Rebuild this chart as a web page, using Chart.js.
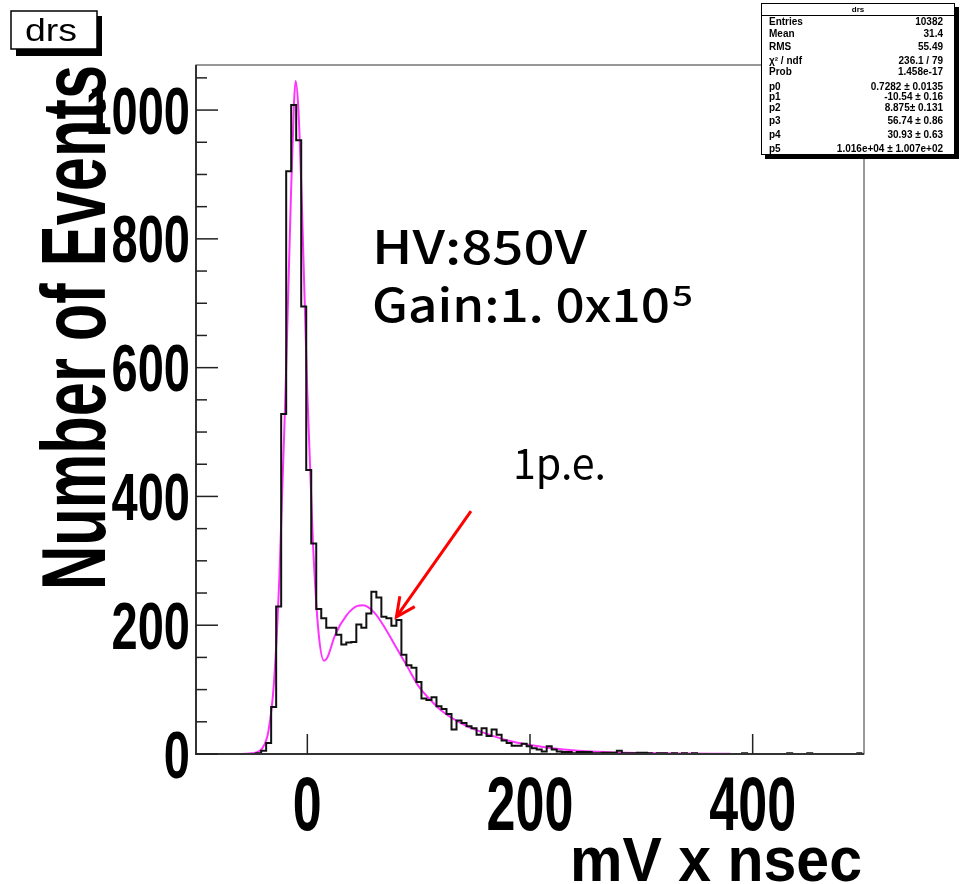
<!DOCTYPE html>
<html>
<head>
<meta charset="utf-8">
<script src="https://cdn.jsdelivr.net/npm/chart.js@4.4.1/dist/chart.umd.min.js"></script>
<style>
  html, body { margin: 0; padding: 0; background: #fff; }
  #wrap { width: 961px; height: 884px; position: relative; }
</style>
</head>
<body>
<div id="wrap"><canvas id="drsChart" width="961" height="884"></canvas></div>
<script>
// histogram "drs": bins of 4.5 starting at -100
const binLow = -100;
const binWidth = 4.5;
const counts = [
    0, 0, 0, 0, 0, 0, 0, 0, 0, 0,
    0, 0, 1, 5, 17, 73, 229, 528, 905, 1008,
    953, 695, 441, 327, 225, 211, 196, 196, 185, 170,
    173, 174, 201, 196, 218, 252, 243, 213, 211, 199,
    208, 154, 138, 134, 112, 86, 84, 88, 74, 70,
    62, 38, 52, 48, 43, 40, 30, 40, 28, 38,
    30, 21, 17, 13, 13, 16, 12, 9, 7, 4,
    12, 7, 4, 3, 3, 1, 3, 3, 3, 1,
    1, 2, 2, 2, 5, 1, 1, 1, 2, 2,
    1, 0, 1, 1, 0, 1, 0, 1, 0, 1,
    0, 0, 0, 0, 0, 0, 0, 0, 0, 1,
    0, 0, 0, 0, 0, 0, 0, 0, 1, 0,
    0, 0, 1, 0, 0, 0, 0, 0, 0, 0,
    0, 0, 1
];

// fit curve
const fitX = [-100, -60, -50, -45, -40, -35, -30, -25, -20, -15, -12, -10.5, -8, -5, 0, 5, 10, 15, 18, 25, 35, 45, 50, 60, 70, 80, 90, 100, 110, 120, 140, 160, 180, 200, 230, 260, 300, 340, 380];
const fitY = [0, 0, 1, 3, 10, 35, 110, 280, 540, 850, 1010, 1045, 1000, 860, 560, 330, 190, 145, 150, 185, 215, 230, 231, 220, 195, 165, 135, 105, 85, 68, 46, 32, 21, 14, 7, 3.5, 1.5, 0.7, 0.3];

const xLabels = [0, 200, 400];
const yLabels = [0, 200, 400, 600, 800, 1000];

const statLabels = ['Entries', 'Mean', 'RMS', 'χ² / ndf', 'Prob', 'p0', 'p1', 'p2', 'p3', 'p4', 'p5'];
const statValues = ['10382', '31.4', '55.49', '236.1 / 79', '1.458e-17', '0.7282 ± 0.0135', '-10.54 ± 0.16',
    '8.875± 0.131', '56.74 ± 0.86', '30.93 ± 0.63', '1.016e+04 ± 1.007e+02'];

// arrow to the 1 p.e. bump, in data units
const arrowFrom = [147, 377];
const arrowTo = [80, 213];

const histPoints = counts.map((c, i) => ({x: binLow + i * binWidth, y: c}));
histPoints.push({x: binLow + counts.length * binWidth, y: counts[counts.length - 1]});
const fitPoints = fitX.map((x, i) => ({x: x, y: fitY[i]}));

function stretchText(c, str, x, y, font, w, sy, align) {
    c.save();
    c.font = font;
    const m = c.measureText(str).width;
    const sx = w ? w / m : 1;
    c.translate(x, y);
    c.scale(sx, sy);
    c.textAlign = align || 'left';
    c.textBaseline = 'alphabetic';
    c.fillText(str, 0, 0);
    c.restore();
}

const rootDecor = {
    id: 'rootDecor',
    afterDatasetsDraw(chart) {
        const c = chart.ctx;
        const a = chart.chartArea;
        const xs = chart.scales.x, ys = chart.scales.y;
        c.save();
        c.fillStyle = '#000';

        // frame
        c.strokeStyle = '#333';
        c.lineWidth = 1;
        c.strokeRect(a.left, a.top, a.right - a.left, a.bottom - a.top);
        c.lineWidth = 2;
        c.beginPath();
        c.moveTo(a.left, a.top); c.lineTo(a.left, a.bottom); c.lineTo(a.right, a.bottom);
        c.stroke();

        // y ticks (inside), minor every 50
        c.lineWidth = 1.5;
        c.strokeStyle = '#222';
        for (let v = 0; v <= ys.max; v += 50) {
            const y = ys.getPixelForValue(v);
            const len = v % 200 === 0 ? 22 : 11;
            c.beginPath(); c.moveTo(a.left, y); c.lineTo(a.left + len, y); c.stroke();
        }
        xLabels.forEach(v => {
            const x = xs.getPixelForValue(v);
            c.beginPath(); c.moveTo(x, a.bottom); c.lineTo(x, a.bottom - 20); c.stroke();
        });

        // tick labels
        yLabels.forEach(v => {
            const y = ys.getPixelForValue(v);
            stretchText(c, String(v), 190, y + 23.5, 'bold 47px "Liberation Sans"', null, 1.4, 'right');
        });
        xLabels.forEach(v => {
            const x = xs.getPixelForValue(v);
            stretchText(c, String(v), x, 830, 'bold 52px "Liberation Sans"', null, 1.45, 'center');
        });

        // axis titles
        c.save();
        c.translate(105, 590);
        c.rotate(-Math.PI / 2);
        stretchText(c, 'Number of Events', 0, 0, 'bold 61px "Liberation Sans"', 525, 1.49, 'left');
        c.restore();
        stretchText(c, 'mV x nsec', 862, 881, 'bold 59px "Liberation Sans"', 292, 1.08, 'right');

        // annotations
        stretchText(c, 'HV:850V', 372, 264, '500 46px "Noto Sans CJK JP"', 215, 1, 'left');
        stretchText(c, 'Gain:1. 0x10', 372, 322, '500 46px "Noto Sans CJK JP"', 298, 1, 'left');
        stretchText(c, '5', 672, 306, '500 28px "Noto Sans CJK JP"', 21, 1, 'left');
        stretchText(c, '1p.e.', 513, 479, '400 42px "Noto Sans CJK JP"', 93, 1, 'left');

        // red arrow
        const x0 = xs.getPixelForValue(arrowFrom[0]), y0 = ys.getPixelForValue(arrowFrom[1]);
        const x1 = xs.getPixelForValue(arrowTo[0]), y1 = ys.getPixelForValue(arrowTo[1]);
        const ang = Math.atan2(y1 - y0, x1 - x0);
        c.strokeStyle = '#ff0000';
        c.lineWidth = 3;
        c.beginPath(); c.moveTo(x0, y0); c.lineTo(x1, y1); c.stroke();
        c.beginPath();
        c.moveTo(x1 - 21 * Math.cos(ang - 0.45), y1 - 21 * Math.sin(ang - 0.45));
        c.lineTo(x1, y1);
        c.lineTo(x1 - 21 * Math.cos(ang + 0.45), y1 - 21 * Math.sin(ang + 0.45));
        c.stroke();

        // title box
        c.fillStyle = '#000';
        c.fillRect(16, 16, 86, 40);
        c.fillStyle = '#fff';
        c.fillRect(11, 11, 86, 38);
        c.strokeStyle = '#000';
        c.lineWidth = 1.5;
        c.strokeRect(11, 11, 86, 38);
        c.fillStyle = '#000';
        stretchText(c, 'drs', 25, 41, '500 32px "Liberation Sans"', 52, 1, 'left');

        // stats box
        c.fillStyle = '#000';
        c.fillRect(765, 7, 194, 152);
        c.fillStyle = '#fff';
        c.fillRect(761, 3, 194, 152);
        c.lineWidth = 1;
        c.strokeRect(761.5, 3.5, 193, 151);
        c.beginPath(); c.moveTo(761, 15.5); c.lineTo(955, 15.5); c.stroke();
        c.fillStyle = '#000';
        c.font = 'bold 8px "Liberation Sans"';
        c.textAlign = 'center';
        c.textBaseline = 'middle';
        c.fillText('drs', 858, 9.5);
        const rowY = [22.7, 34, 47.3, 61, 72.7, 87.3, 97.3, 108.3, 121.7, 135, 149.3];
        c.font = 'bold 10px "Liberation Sans"';
        statLabels.forEach((s, i) => {
            c.textAlign = 'left';
            c.fillText(s, 769, rowY[i]);
            c.textAlign = 'right';
            c.fillText(statValues[i], 943, rowY[i]);
        });
        c.restore();
    }
};

const ctx = document.getElementById('drsChart').getContext('2d');
new Chart(ctx, {
    type: 'line',
    data: {
        datasets: [
            {
                data: histPoints,
                stepped: 'before',
                borderColor: '#111',
                borderWidth: 2,
                pointRadius: 0,
                fill: false,
                clip: false
            },
            {
                data: fitPoints,
                borderColor: '#ff33ff',
                borderWidth: 2,
                pointRadius: 0,
                fill: false,
                cubicInterpolationMode: 'monotone'
            }
        ]
    },
    options: {
        responsive: false,
        animation: false,
        devicePixelRatio: 1,
        layout: {padding: {left: 196, top: 65, right: 97, bottom: 130}},
        plugins: {legend: {display: false}, tooltip: {enabled: false}},
        scales: {
            x: {type: 'linear', display: false, min: -100, max: 500},
            y: {type: 'linear', display: false, min: 0, max: 1070}
        }
    },
    plugins: [rootDecor]
});
</script>
</body>
</html>
